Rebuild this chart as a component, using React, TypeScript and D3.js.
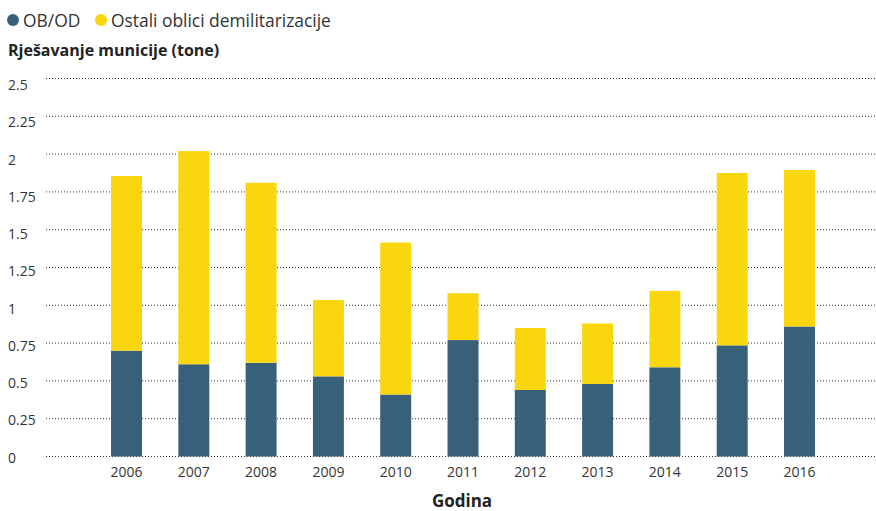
import React from "react";
import * as d3 from "d3";

const years = ["2006", "2007", "2008", "2009", "2010", "2011", "2012", "2013", "2014", "2015", "2016"];
const obod = [0.70, 0.61, 0.62, 0.53, 0.41, 0.77, 0.44, 0.48, 0.59, 0.735, 0.86];
const totals = [1.855, 2.02, 1.81, 1.035, 1.415, 1.08, 0.85, 0.88, 1.095, 1.875, 1.895];
const ostali = totals.map((t, i) => +(t - obod[i]).toFixed(3));
const yTicks = [0, 0.25, 0.5, 0.75, 1, 1.25, 1.5, 1.75, 2, 2.25, 2.5];
const seriesNames = ["OB/OD", "Ostali oblici demilitarizacije"];
const colors = ["#38607a", "#f9d60e"];

const W = 876;
const H = 511;
const FONT = "'Open Sans', 'Noto Sans', sans-serif";

export default function App() {
  const y = d3.scaleLinear().domain([0, 2.5]).range([456.5, 78.5]);
  const yLab = d3.scaleLinear().domain([0, 2.5]).range([462.5, 90]);
  const x = d3.scaleBand<string>().domain(years).range([74.7, 851.3]).paddingInner(0.54).paddingOuter(0.54);

  const rows = years.map((yr, i) => ({ year: yr, obod: obod[i], ostali: ostali[i] }));
  const stack = d3.stack<any>().keys(["obod", "ostali"])(rows);

  return (
    <svg width={W} height={H} style={{ position: "absolute", left: 0, top: 0, background: "#fff" }} fontFamily={FONT}>
      {/* legend */}
      <circle cx={13} cy={20} r={6} fill={colors[0]} />
      <text x={23} y={27} fontSize={17.4} fill="#333">{seriesNames[0]}</text>
      <circle cx={101} cy={20} r={6} fill={colors[1]} />
      <text x={111} y={27} fontSize={17.4} fill="#333">{seriesNames[1]}</text>
      <text x={8} y={56} fontSize={16} fontWeight="bold" fill="#222">Rješavanje municije (tone)</text>

      {/* grid */}
      {yTicks.map((t) => (
        <line key={t} x1={46} x2={875} y1={y(t)} y2={y(t)} stroke="#333" strokeWidth={1} strokeDasharray="1,2" />
      ))}
      {yTicks.map((t) => (
        <text key={"l" + t} x={8} y={yLab(t)} fontSize={14} fill="#333">{String(t)}</text>
      ))}

      {/* bars */}
      {stack.map((s, si) => (
        <g key={si} fill={colors[si]}>
          {s.map((d: any, i: number) => (
            <rect key={i} x={x(years[i])} width={x.bandwidth()} y={y(d[1])} height={y(d[0]) - y(d[1])} />
          ))}
        </g>
      ))}

      {/* x labels */}
      {years.map((yr) => (
        <text key={yr} x={(x(yr) as number) + x.bandwidth() / 2} y={477} fontSize={14} textAnchor="middle" fill="#333">{yr}</text>
      ))}
      <text x={462} y={507} fontSize={17} fontWeight="bold" textAnchor="middle" fill="#222">Godina</text>
    </svg>
  );
}
